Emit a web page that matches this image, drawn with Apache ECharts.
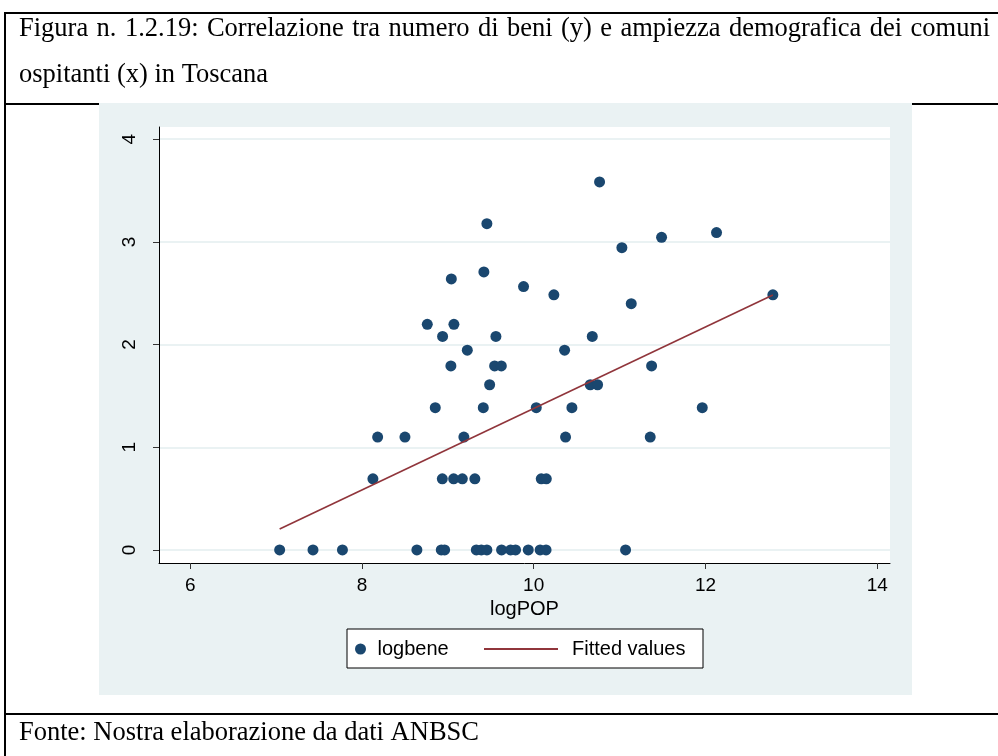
<!DOCTYPE html>
<html>
<head>
<meta charset="utf-8">
<script src="https://cdn.jsdelivr.net/npm/echarts@6/dist/echarts.min.js"></script>
<style>
  html, body { margin: 0; padding: 0; background: #fff; }
  #chart { width: 998px; height: 756px; }
</style>
</head>
<body>
<div id="chart"></div>
<script>
// valori (logbene = ln(numero beni), logPOP = ln(popolazione))
var logPOP = [
  7.042, 7.430, 7.773, 8.640, 8.924, 8.963, 9.332, 9.390, 9.455, 9.626, 9.731, 9.789, 9.937, 10.075, 10.144, 11.070,
  8.128, 8.936, 9.068, 9.169, 9.315, 10.088, 10.147,
  8.183, 8.501, 9.187, 10.371, 11.357,
  8.854, 9.413, 10.030, 10.445, 11.963,
  9.487, 10.659, 10.744,
  9.036, 9.545, 9.623, 11.373,
  9.227, 10.360,
  8.939, 9.560, 10.682,
  8.761, 9.071,
  11.136,
  10.235, 12.785,
  9.882,
  9.041,
  9.420,
  11.027,
  11.489,
  12.129,
  9.455,
  10.767
];
var logbene = [
  0, 0, 0, 0, 0, 0, 0, 0, 0, 0, 0, 0, 0, 0, 0, 0,
  0.693, 0.693, 0.693, 0.693, 0.693, 0.693, 0.693,
  1.099, 1.099, 1.099, 1.099, 1.099,
  1.386, 1.386, 1.386, 1.386, 1.386,
  1.609, 1.609, 1.609,
  1.792, 1.792, 1.792, 1.792,
  1.946, 1.946,
  2.079, 2.079, 2.079,
  2.197, 2.197,
  2.398,
  2.485, 2.485,
  2.565,
  2.639,
  2.708,
  2.944,
  3.045,
  3.091,
  3.178,
  3.584
];
var fittedX = [7.042, 12.785];
var fittedY = [0.204, 2.483];
var xTicks = [6, 8, 10, 12, 14];
var yTicks = [0, 1, 2, 3, 4];

var titleLine1 = 'Figura n. 1.2.19: Correlazione tra numero di beni (y) e ampiezza demografica dei comuni';
var titleLine2 = 'ospitanti (x) in Toscana';
var footer = 'Fonte: Nostra elaborazione da dati ANBSC';

var myChart = echarts.init(document.getElementById('chart'));

var scatterData = logPOP.map(function (x, i) { return [x, logbene[i]]; });
var fitData = fittedX.map(function (x, i) { return [x, fittedY[i]]; });

var serifFont = '"Liberation Serif", "Times New Roman", serif';
var sansFont = '"Liberation Sans", Arial, Helvetica, sans-serif';
var titleFont = '26.5px ' + serifFont;

// prima riga del titolo giustificata (come nella tabella di Word)
function justifiedWords(text, x0, x1, top) {
  var ctx = document.createElement('canvas').getContext('2d');
  ctx.font = titleFont;
  var words = text.split(' ');
  var widths = words.map(function (w) { return ctx.measureText(w).width; });
  var total = widths.reduce(function (a, b) { return a + b; }, 0);
  var gap = (x1 - x0 - total) / (words.length - 1);
  var x = x0;
  return words.map(function (w, i) {
    var el = { type: 'text', z: 5, x: x, y: top, style: { text: w, fill: '#000', font: titleFont } };
    x += widths[i] + gap;
    return el;
  });
}

var graphics = [
  // cornice della tabella
  { type: 'line', z: -20, shape: { x1: 5, y1: 13, x2: 998, y2: 13 }, style: { stroke: '#000', lineWidth: 2 } },
  { type: 'line', z: -20, shape: { x1: 5, y1: 12, x2: 5, y2: 756 }, style: { stroke: '#000', lineWidth: 2 } },
  { type: 'line', z: -20, shape: { x1: 5, y1: 104, x2: 998, y2: 104 }, style: { stroke: '#000', lineWidth: 2 } },
  { type: 'line', z: -20, shape: { x1: 5, y1: 714, x2: 998, y2: 714 }, style: { stroke: '#000', lineWidth: 2 } },
  // sfondo del grafico
  { type: 'rect', z: -10, shape: { x: 99, y: 103, width: 813, height: 592 }, style: { fill: '#eaf2f3' } },
  // riquadro legenda
  { type: 'rect', z: 1, shape: { x: 347, y: 629, width: 356, height: 39 }, style: { fill: '#fff', stroke: '#000', lineWidth: 1 } },
  { type: 'text', z: 5, left: 19, top: 62, style: { text: titleLine2, fill: '#000', font: titleFont } },
  { type: 'text', z: 5, left: 19, top: 720, style: { text: footer, fill: '#000', font: titleFont } }
].concat(justifiedWords(titleLine1, 19, 990, 16));

var option = {
  animation: false,
  backgroundColor: '#fff',
  grid: {
    left: 159, top: 127, right: 108, bottom: 193,
    show: true, backgroundColor: '#fff', borderWidth: 0
  },
  xAxis: {
    type: 'value',
    min: 5.637, max: 14.149,
    name: 'logPOP',
    nameLocation: 'middle',
    nameGap: 34,
    nameTextStyle: { color: '#000', fontSize: 20, fontFamily: sansFont },
    axisLine: { show: true, onZero: false, lineStyle: { color: '#000', width: 1 } },
    axisTick: { show: true, length: 6, customValues: xTicks, lineStyle: { color: '#333' } },
    axisLabel: { customValues: xTicks, margin: 13, color: '#000', fontSize: 19, fontFamily: sansFont },
    splitLine: { show: false }
  },
  yAxis: {
    type: 'value',
    min: -0.127, max: 4.119,
    axisLine: { show: true, onZero: false, lineStyle: { color: '#000', width: 1 } },
    axisTick: { show: true, length: 6, customValues: yTicks, lineStyle: { color: '#333' } },
    axisLabel: { customValues: yTicks, rotate: 90, margin: 20, color: '#000', fontSize: 19, fontFamily: sansFont },
    splitLine: { show: true, lineStyle: { color: '#eaf2f3', width: 2 } }
  },
  legend: [
    {
      data: [{ name: 'logbene', icon: 'circle' }],
      left: 355, top: 639,
      itemWidth: 12, itemHeight: 11,
      padding: 0,
      textStyle: { color: '#000', fontSize: 20, fontFamily: sansFont, padding: [0, 0, 0, 6] },
      z: 10
    },
    {
      data: [{ name: 'Fitted values', icon: 'rect' }],
      left: 484, top: 639,
      itemWidth: 74, itemHeight: 2,
      padding: 0,
      textStyle: { color: '#000', fontSize: 20, fontFamily: sansFont, padding: [0, 0, 0, 9] },
      z: 10
    }
  ],
  series: [
    {
      name: 'logbene',
      type: 'scatter',
      data: scatterData,
      symbol: 'circle',
      symbolSize: 11,
      itemStyle: { color: '#1a476f', opacity: 1 },
      z: 3
    },
    {
      name: 'Fitted values',
      type: 'line',
      data: fitData,
      symbol: 'none',
      lineStyle: { color: '#90353b', width: 1.6 },
      itemStyle: { color: '#90353b' },
      z: 4
    }
  ],
  graphic: graphics
};

myChart.setOption(option);
</script>
</body>
</html>
